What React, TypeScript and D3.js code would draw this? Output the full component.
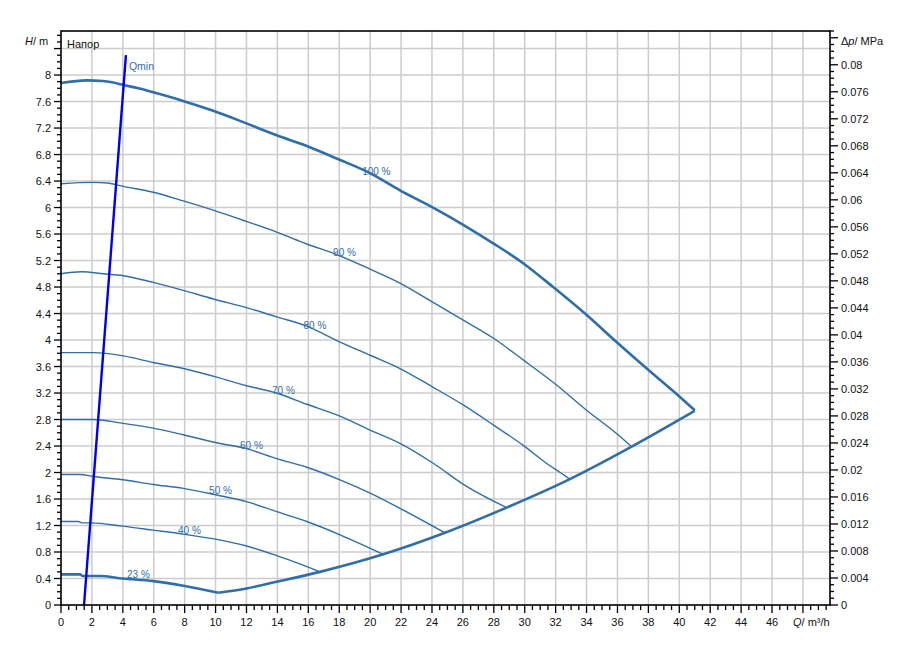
import React from "react";
import * as d3 from "d3";

type Pt = [number, number];

const W = 911;
const H = 658;

// Pump curves: flow Q (m³/h), head H (m)
const curve100: Pt[] = [[0,7.88],[1.66,7.92],[2.7,7.91],[3.3,7.89],[4.03,7.85],[5,7.80],[5.97,7.74],[7.9,7.61],[9.85,7.46],[12,7.27],[13.95,7.09],[15.9,6.93],[17.83,6.74],[19.99,6.52],[21.93,6.26],[23.98,6.01],[26.02,5.74],[27.96,5.46],[29.9,5.16],[31.84,4.80],[33.9,4.40],[35.94,3.97],[37.99,3.55],[40.04,3.14],[41.0,2.94]];
const curve90: Pt[] = [[0,6.36],[2.09,6.38],[3,6.37],[4.03,6.32],[5.97,6.23],[7.91,6.10],[9.85,5.96],[12,5.79],[13.95,5.63],[15.9,5.45],[17.83,5.29],[20,5.07],[21.93,4.86],[23.98,4.58],[26.02,4.30],[27.96,4.03],[29.9,3.70],[32.06,3.32],[34,2.94],[35.94,2.59],[36.92,2.39]];
const curve80: Pt[] = [[0,5.0],[1.34,5.03],[2.74,5.0],[4.03,4.97],[5.97,4.87],[7.91,4.75],[9.85,4.62],[12,4.49],[13.95,4.35],[15.9,4.21],[18.05,3.97],[20,3.77],[21.93,3.57],[23.98,3.30],[26.02,3.02],[27.96,2.72],[29.9,2.41],[31.4,2.14],[32.3,2.0],[32.92,1.90]];
const curve70: Pt[] = [[0,3.81],[2.09,3.81],[4.03,3.76],[5.97,3.66],[7.91,3.57],[10.07,3.44],[12,3.31],[13.95,3.20],[15.9,3.03],[18.05,2.85],[20,2.64],[21.93,2.44],[24.08,2.14],[26.24,1.79],[28.83,1.47]];
const curve60: Pt[] = [[0,2.80],[2.09,2.80],[3.82,2.75],[5.97,2.67],[7.91,2.57],[10.07,2.45],[12,2.36],[13.95,2.21],[15.9,2.08],[18.05,1.89],[20,1.69],[21.93,1.46],[24.84,1.09]];
const curve50: Pt[] = [[0,1.97],[1.23,1.97],[2.09,1.94],[4.03,1.89],[5.97,1.82],[7.91,1.76],[10.07,1.66],[12,1.56],[13.95,1.41],[15.9,1.26],[18.05,1.06],[20.85,0.765]];
const curve40: Pt[] = [[0,1.26],[1.12,1.26],[1.34,1.24],[1.98,1.24],[3.99,1.19],[5.97,1.13],[7.91,1.07],[10.07,0.99],[12,0.89],[13.95,0.745],[15.46,0.62],[16.75,0.50]];
const curve23: Pt[] = [[0,0.463],[1.23,0.463],[1.4,0.438],[2.5,0.438],[3.99,0.40],[5.97,0.36],[7.91,0.29],[10.18,0.186]];
const endCurve: Pt[] = [[10.18,0.186],[12,0.25],[13.95,0.35],[16.75,0.50],[20.85,0.765],[24.84,1.09],[28.83,1.47],[32.92,1.90],[36.92,2.39],[41.0,2.93]];
const qminLine: Pt[] = [[1.49,0],[4.2,8.30]];

const curveNames = ["100 %", "90 %", "80 %", "70 %", "60 %", "50 %", "40 %", "23 %"];
const curveData = [curve100, curve90, curve80, curve70, curve60, curve50, curve40, curve23];
const curveThick = [true, false, false, false, false, false, false, true];
const labelQ = [20.4, 18.34, 16.43, 14.39, 12.32, 10.32, 8.31, 5.01];

// Axes
const xMax = 49.75;
const hMax = 8.665;
const pMax = 0.085;
const xLabelTicks = [0,2,4,6,8,10,12,14,16,18,20,22,24,26,28,30,32,34,36,38,40,42,44,46];
const xGridTicks = [2,4,6,8,10,12,14,16,18,20,22,24,26,28,30,32,34,36,38,40,42,44,46,48];
const hLabelTicks = [0,0.4,0.8,1.2,1.6,2,2.4,2.8,3.2,3.6,4,4.4,4.8,5.2,5.6,6,6.4,6.8,7.2,7.6,8];
const hGridTicks = [0.4,0.8,1.2,1.6,2,2.4,2.8,3.2,3.6,4,4.4,4.8,5.2,5.6,6,6.4,6.8,7.2,7.6,8,8.4];
const pLabelTicks = [0,0.004,0.008,0.012,0.016,0.02,0.024,0.028,0.032,0.036,0.04,0.044,0.048,0.052,0.056,0.06,0.064,0.068,0.072,0.076,0.08];

const left = 61, right = 830, top = 31, bottom = 605;
const x = d3.scaleLinear().domain([0, xMax]).range([left, right]);
const y = d3.scaleLinear().domain([0, hMax]).range([bottom, top]);
const yp = d3.scaleLinear().domain([0, pMax]).range([bottom, top]);

const lineGen = d3.line<Pt>().x((d) => x(d[0])).y((d) => y(d[1])).curve(d3.curveMonotoneX);
const straight = d3.line<Pt>().x((d) => x(d[0])).y((d) => y(d[1]));

const BLUE = "#2f6ea8";
const FONT = "'Liberation Sans', Arial, sans-serif";

function interp(pts: Pt[], q: number): number {
  for (let i = 0; i < pts.length - 1; i++) {
    const [q0, h0] = pts[i];
    const [q1, h1] = pts[i + 1];
    if (q >= q0 && q <= q1) return h0 + ((h1 - h0) * (q - q0)) / (q1 - q0);
  }
  return pts[pts.length - 1][1];
}

const fmt = (v: number) => String(+v.toFixed(4));

export default function App() {
  const xMinor = d3.range(0, xMax + 0.001, 0.5);
  const hMinor = d3.range(0, hMax + 0.001, 0.1);
  const pMinor = d3.range(0, pMax + 0.00001, 0.001);
  return (
    <svg width={W} height={H} style={{ position: "absolute", left: 0, top: 0, background: "#fff" }} fontFamily={FONT}>
      <rect x={0} y={0} width={W} height={H} fill="#fff" />
      {/* grid */}
      <g stroke="#cccccc" strokeWidth={1.5}>
        {xGridTicks.map((t) => (
          <line key={"gx" + t} x1={x(t)} x2={x(t)} y1={top} y2={bottom} />
        ))}
        {hGridTicks.map((t) => (
          <line key={"gy" + t} x1={left} x2={right} y1={y(t)} y2={y(t)} />
        ))}
      </g>
      {/* curves */}
      {curveData.map((c, i) => (
        <path key={"c" + i} d={lineGen(c) || ""} fill="none" stroke={BLUE} strokeWidth={curveThick[i] ? 2.6 : 1.4} strokeLinejoin="round" />
      ))}
      <path d={lineGen(endCurve) || ""} fill="none" stroke={BLUE} strokeWidth={2.6} strokeLinejoin="round" />
      {curveData.map((c, i) => (
        <text key={"l" + i} x={x(labelQ[i])} y={y(interp(c, labelQ[i])) - 5} fontSize={10} fill={BLUE} textAnchor="middle" dominantBaseline="central">
          {curveNames[i]}
        </text>
      ))}
      {/* Qmin */}
      <path d={straight(qminLine) || ""} fill="none" stroke="#0000ee" strokeWidth={2.4} />
      <text x={x(qminLine[1][0]) + 3} y={y(qminLine[1][1]) + 11} fontSize={10.5} fill={BLUE} dominantBaseline="central">Qmin</text>
      {/* frame */}
      <rect x={left} y={top} width={right - left} height={bottom - top} fill="none" stroke="#000" strokeWidth={1.6} />
      {/* ticks */}
      <g stroke="#000" strokeWidth={1.3}>
        {xMinor.map((t) => {
          const major = Math.abs(t / 2 - Math.round(t / 2)) < 1e-6;
          return <line key={"xt" + t} x1={x(t)} x2={x(t)} y1={bottom} y2={bottom + (major ? 8 : 5)} />;
        })}
        {hMinor.map((t) => {
          const major = Math.abs(t / 0.4 - Math.round(t / 0.4)) < 1e-6;
          return <line key={"ht" + t} x1={left} x2={left - (major ? 7 : 4)} y1={y(t)} y2={y(t)} />;
        })}
        {pMinor.map((t) => {
          const major = Math.abs(t / 0.004 - Math.round(t / 0.004)) < 1e-6;
          return <line key={"pt" + t} x1={right} x2={right + (major ? 8 : 4)} y1={yp(t)} y2={yp(t)} />;
        })}
      </g>
      {/* tick labels */}
      <g fontSize={11} fill="#111">
        {xLabelTicks.map((t) => (
          <text key={"xl" + t} x={x(t)} y={622} textAnchor="middle" dominantBaseline="central">{t}</text>
        ))}
        {hLabelTicks.map((t) => (
          <text key={"hl" + t} x={51} y={y(t)} textAnchor="end" dominantBaseline="central">{fmt(t)}</text>
        ))}
        {pLabelTicks.map((t) => (
          <text key={"pl" + t} x={841} y={yp(t)} dominantBaseline="central">{fmt(t)}</text>
        ))}
      </g>
      {/* axis titles */}
      <text x={25} y={45} fontSize={11} fill="#111">
        <tspan fontStyle="italic">H</tspan>/ m
      </text>
      <text x={67} y={48} fontSize={11} fill="#111">Напор</text>
      <text x={841} y={45} fontSize={11} fill="#111">
        Δ<tspan fontStyle="italic">p</tspan>/ MPa
      </text>
      <text x={793} y={626} fontSize={11} fill="#111">
        <tspan fontStyle="italic">Q</tspan>/ m³/h
      </text>
    </svg>
  );
}
